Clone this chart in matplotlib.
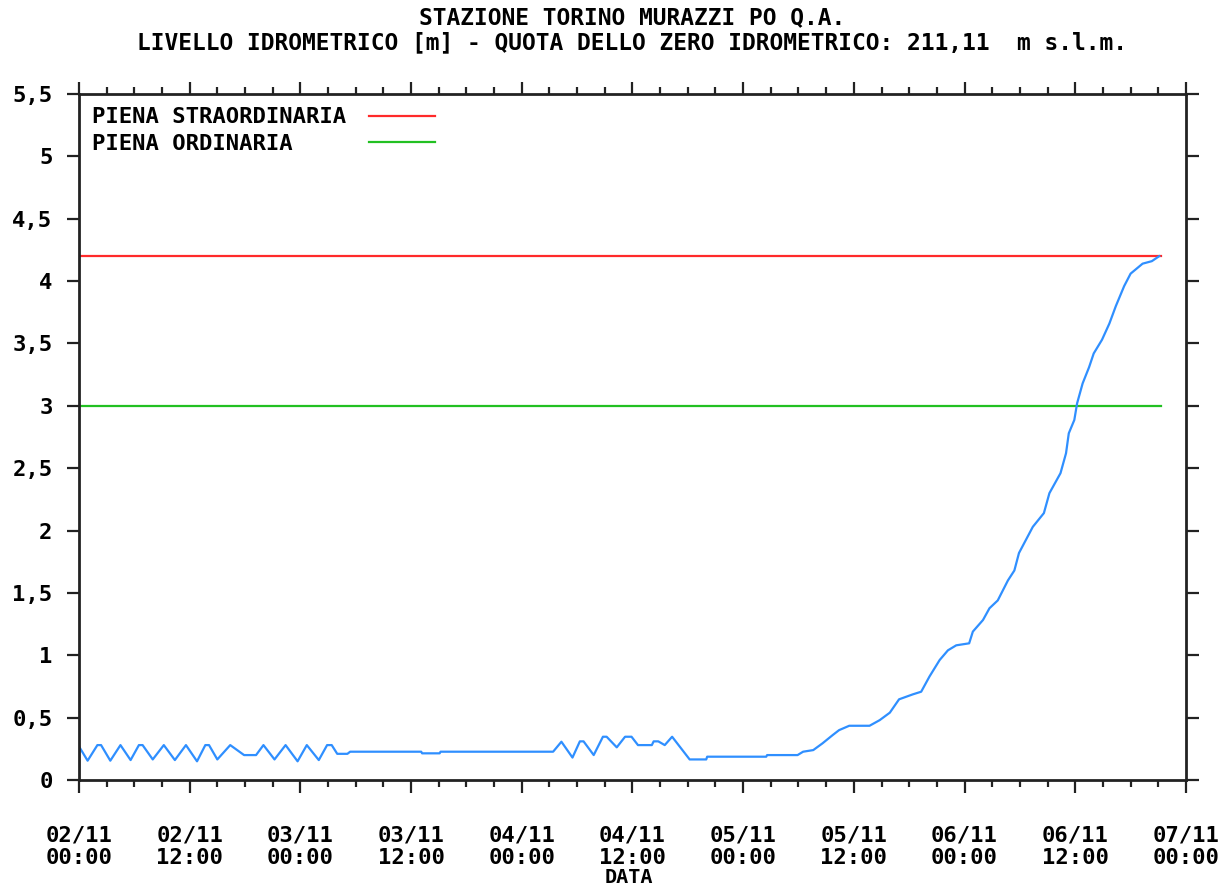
import matplotlib
matplotlib.use("Agg")
import matplotlib.pyplot as plt
from matplotlib.ticker import MultipleLocator

# hours from 02/11 00:00, water level in metres
hours = [0.0, 0.94, 2.0, 2.4, 3.4, 4.5, 5.6, 6.5, 6.9, 8.0, 9.2, 10.4, 11.6, 12.8,
         13.7, 14.1, 15.0, 16.4, 17.9, 19.2, 20.0, 21.2, 22.4, 23.7, 24.7, 26.0,
         26.9, 27.4, 28.0, 29.1, 29.4, 37.1, 37.2, 39.1, 39.2, 51.4, 52.3, 53.5,
         54.3, 54.7, 55.8, 56.8, 57.2, 58.3, 59.2, 59.9, 60.6, 62.1, 62.3, 62.8,
         63.5, 64.3, 66.2, 68.0, 68.1, 74.5, 74.6, 77.9, 78.5, 79.6, 80.6, 81.7,
         82.4, 83.5, 85.7, 86.8, 87.9, 88.9, 90.4, 91.3, 92.2, 93.3, 94.2, 95.1,
         96.5, 96.9, 98.0, 98.7, 99.6, 100.7, 101.4, 101.9, 103.4, 104.6, 105.2,
         106.4, 107.0, 107.3, 107.9, 108.2, 108.8, 109.5, 110.0, 110.9, 111.7,
         112.4, 113.3, 114.0, 115.3, 116.3, 117.1]
level = [0.27, 0.155, 0.28, 0.28, 0.155, 0.28, 0.16, 0.28, 0.28, 0.165, 0.28, 0.16,
         0.28, 0.15, 0.28, 0.28, 0.165, 0.28, 0.20, 0.20, 0.28, 0.165, 0.28, 0.15,
         0.28, 0.16, 0.28, 0.28, 0.21, 0.21, 0.227, 0.227, 0.214, 0.214, 0.227,
         0.227, 0.307, 0.18, 0.31, 0.31, 0.20, 0.347, 0.347, 0.262, 0.347, 0.347,
         0.28, 0.28, 0.31, 0.31, 0.28, 0.347, 0.165, 0.165, 0.187, 0.187, 0.2, 0.2,
         0.227, 0.24, 0.294, 0.36, 0.40, 0.435, 0.435, 0.48, 0.54, 0.647, 0.687,
         0.708, 0.83, 0.962, 1.04, 1.08, 1.096, 1.19, 1.283, 1.377, 1.44, 1.60,
         1.68, 1.82, 2.03, 2.14, 2.30, 2.46, 2.62, 2.78, 2.887, 3.02, 3.18, 3.31,
         3.42, 3.53, 3.66, 3.80, 3.96, 4.06, 4.14, 4.16, 4.20]

piena_straordinaria = 4.2
piena_ordinaria = 3.0
line_end = 117.25

x_ticks = [0, 12, 24, 36, 48, 60, 72, 84, 96, 108, 120]
x_labels = ["02/11\n00:00", "02/11\n12:00", "03/11\n00:00", "03/11\n12:00",
            "04/11\n00:00", "04/11\n12:00", "05/11\n00:00", "05/11\n12:00",
            "06/11\n00:00", "06/11\n12:00", "07/11\n00:00"]
y_ticks = [0, 0.5, 1, 1.5, 2, 2.5, 3, 3.5, 4, 4.5, 5, 5.5]
y_labels = ["0", "0,5", "1", "1,5", "2", "2,5", "3", "3,5", "4", "4,5", "5", "5,5"]

plt.rcParams['font.family'] = ['DejaVu Sans Mono']
plt.rcParams['font.weight'] = 'bold'
plt.rcParams['font.size'] = 16

fig = plt.figure(figsize=(12.22, 8.88), dpi=100)
ax = fig.add_axes([0.0646, 0.1216, 0.9059, 0.7725])

ax.plot([0, line_end], [piena_straordinaria] * 2, color="#ff2a2a", lw=1.6,
        label="PIENA STRAORDINARIA")
ax.plot([0, line_end], [piena_ordinaria] * 2, color="#22c022", lw=1.6,
        label="PIENA ORDINARIA    ")
ax.plot(hours, level, color="#2f8fff", lw=1.6)

ax.set_xlim(0, 120)
ax.set_ylim(0, 5.5)
ax.set_xticks(x_ticks)
ax.set_xticklabels(x_labels, linespacing=1.15)
ax.xaxis.set_minor_locator(MultipleLocator(3))
ax.set_yticks(y_ticks)
ax.set_yticklabels(y_labels)

ax.tick_params(axis='x', which='both', direction='out', top=True, bottom=True,
               width=1.6, color='#222222', pad=24)
ax.tick_params(axis='x', which='major', length=9)
ax.tick_params(axis='x', which='minor', length=5)
ax.tick_params(axis='y', which='major', direction='out', left=True, right=True,
               length=9, width=1.6, color='#222222', pad=10)
for s in ax.spines.values():
    s.set_linewidth(2)
    s.set_color('#222222')

ax.set_xlabel("DATA", va='center', fontweight='bold', fontsize=14.5)
ax.xaxis.set_label_coords(0.4965, -0.1415)
ax.set_title("STAZIONE TORINO MURAZZI PO Q.A.\n"
             "LIVELLO IDROMETRICO [m] - QUOTA DELLO ZERO IDROMETRICO: 211,11  m s.l.m.",
             pad=32, linespacing=1.15, fontsize=16.5, fontweight='bold')

ax.legend(loc='upper left', frameon=False, markerfirst=False, handlelength=3.0,
          handletextpad=1.0, labelspacing=0.3, borderaxespad=0.2)

fig.savefig("out.png", dpi=100)
